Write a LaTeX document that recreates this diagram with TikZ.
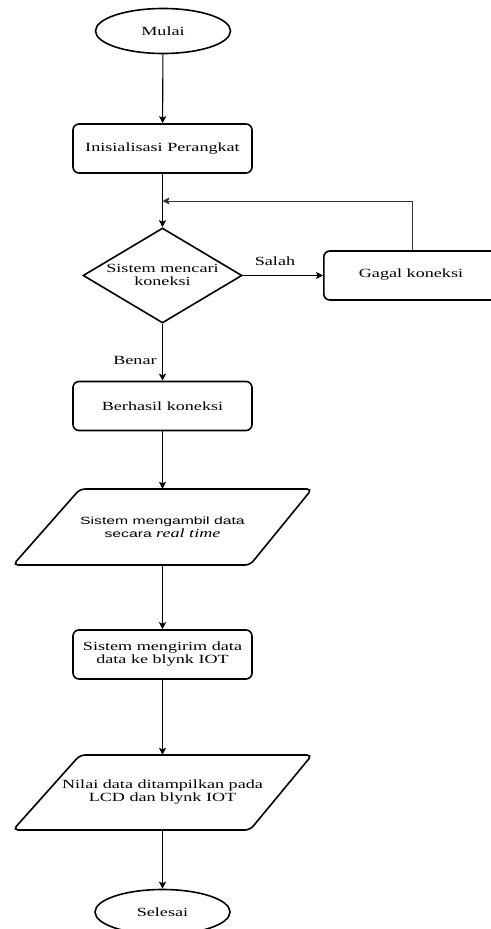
\documentclass[tikz,border=0pt]{standalone}
\usepackage{fontspec}
\setmainfont{Liberation Serif}[FakeStretch=1.45]
\newfontfamily\sansstretch{Liberation Sans}[FakeStretch=1.5]
\usetikzlibrary{shapes.geometric,arrows.meta,calc}
\tikzset{
  base/.style={font=\fontsize{12.5}{13}\selectfont, align=center},
  term/.style={base, draw, ellipse, line width=1.6pt, minimum width=135pt, minimum height=45pt, inner sep=0pt},
  procbox/.style={base, draw, rounded corners=6pt, line width=1.6pt, minimum width=179pt, minimum height=49pt, inner sep=0pt},
  decbox/.style={draw, diamond, line width=1.6pt, minimum width=159pt, minimum height=95pt, inner sep=0pt},
  iobox/.style={draw, line width=1.6pt, rounded corners=5pt},
  ghost/.style={base, minimum width=150pt, inner sep=0pt},
  arr/.style={line width=1.1pt, -{Stealth[length=7pt,width=7pt,inset=1.5pt]}},
  lbl/.style={base}
}
\begin{document}
\begin{tikzpicture}[x=1pt,y=1pt]
\useasboundingbox (0,0) rectangle (490,-929);
\fill[white] (0,0) rectangle (490,-929);

\node[term] (start) at (163,-31) {Mulai};
\node[procbox] (init) at (162.5,-148.5) {Inisialisasi Perangkat};
\node[decbox] (dec) at (162.5,-275.5) {};
\node[base] (dectext) at (162.5,-275) {Sistem mencari\\koneksi};
\node[procbox, minimum width=230pt, anchor=west] (gagal) at (323,-275.5) {};
\node[base] (gagaltext) at (411,-275) {Gagal koneksi};
\node[procbox] (berhasil) at (162.5,-406) {Berhasil koneksi};

% parallelogram 1
\draw[iobox] (80,-489) -- (312,-489) -- (250,-565) -- (13,-565) -- cycle;
\node[ghost, minimum height=76pt] (p1) at (162.5,-527) {{\sansstretch\fontsize{10.5}{13}\selectfont Sistem mengambil data}\\{\sansstretch\fontsize{10.5}{13}\selectfont secara }\textit{real time}};

\node[procbox] (kirim) at (162.5,-654.5) {Sistem mengirim data\\data ke blynk IOT};

% parallelogram 2
\draw[iobox] (80,-755) -- (312,-755) -- (250,-830) -- (13,-830) -- cycle;
\node[ghost, minimum height=75pt] (p2) at (162.5,-792.5) {Nilai data ditampilkan pada\\LCD dan blynk IOT};

\node[term] (end) at (162.5,-912) {Selesai};

\coordinate (fb) at (162.5,-201);
\coordinate (gtop) at ($(gagal.north west)+(89.5,0)$);

\draw[arr] (start) -- (init);
\draw[arr] (init) -- (dec);
\draw[arr] (dec) -- (gagal);
\node[lbl] (salah) at (275,-261) {Salah};
\draw[arr, line width=0.9pt, draw=black!80] (gtop) |- (fb);
\draw[arr] (dec) -- (berhasil);
\node[lbl] (benar) at (135,-360) {Benar};
\draw[arr] (berhasil) -- (p1.north);
\draw[arr] (p1.south) -- (kirim);
\draw[arr] (kirim) -- (p2.north);
\draw[arr] (p2.south) -- (end);
\end{tikzpicture}
\end{document}
